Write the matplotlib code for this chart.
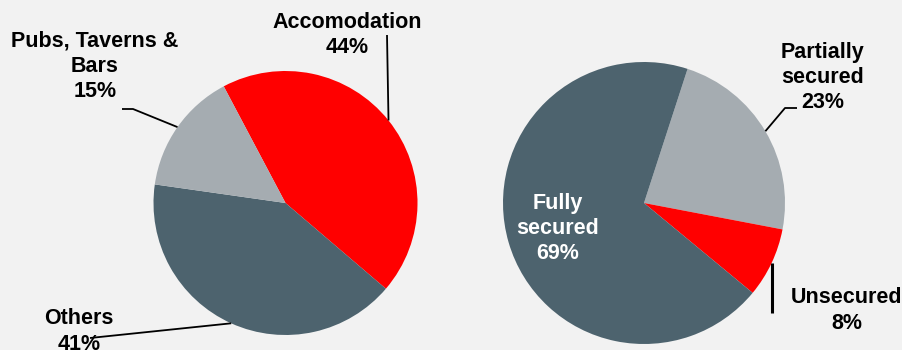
import numpy as np
import matplotlib.pyplot as plt

# Left pie: share of sector
left_labels = ["Accomodation", "Others", "Pubs, Taverns &\nBars"]
left_values = [44, 41, 15]
left_colors = ["#FF0000", "#4D636E", "#A5ACB1"]

# Right pie: security status
right_labels = ["Partially\nsecured", "Unsecured", "Fully\nsecured"]
right_values = [23, 8, 69]
right_colors = ["#A5ACB1", "#FF0000", "#4D636E"]

BG = "#F2F2F2"
FONT = "Liberation Sans"

fig = plt.figure(figsize=(9.03, 3.5), dpi=100, facecolor=BG)
ax = fig.add_axes([0, 0, 1, 1])
ax.set_facecolor(BG)

# axes in pixel units (y up)
H = 350
left_center, left_r = (285.5, H - 203), 132
right_center, right_r = (644, H - 203), 141

lw, _ = ax.pie(left_values, colors=left_colors, startangle=117.9, counterclock=False,
               center=left_center, radius=left_r, wedgeprops=dict(linewidth=0))
rw, _ = ax.pie(right_values, colors=right_colors, startangle=72, counterclock=False,
               center=right_center, radius=right_r, wedgeprops=dict(linewidth=0))
ax.set_xlim(0, 903)
ax.set_ylim(0, H)
ax.set_aspect("equal")
ax.axis("off")


def edge_point(w):
    a = np.deg2rad((w.theta1 + w.theta2) / 2)
    cx, cy = w.center
    return cx + w.r * np.cos(a), cy + w.r * np.sin(a)


def label(x, y, txt, color="black"):
    ax.text(x, H - y, txt, ha="center", va="center", multialignment="center",
            fontsize=15.5, fontweight="bold", family=FONT, color=color,
            linespacing=1.28)


# leader lines (start at wedge middle on the edge)
line_kw = dict(color="black", lw=1.3, solid_capstyle="butt")

x0, y0 = edge_point(lw[0])
ax.plot([x0, 387], [y0, H - 35], **line_kw)
x0, y0 = edge_point(lw[2])
ax.plot([x0, 133, 122], [y0, H - 109, H - 109], **line_kw)
x0, y0 = edge_point(lw[1])
ax.plot([x0, 90], [y0, H - 338], **line_kw)

x0, y0 = edge_point(rw[0])
ax.plot([x0, 785, 797], [y0, H - 108, H - 108], **line_kw)
x0, y0 = edge_point(rw[1])
ax.plot([x0, x0], [y0, H - 313], color="black", lw=2.2, solid_capstyle="butt")

label(347, 35, f"{left_labels[0]}\n{left_values[0]}%")
label(95, 66.5, f"{left_labels[2]}\n{left_values[2]}%")
label(79, 331.5, f"{left_labels[1]}\n{left_values[1]}%")

label(823, 77.5, f"{right_labels[0]}\n{right_values[0]}%")
label(847, 310.5, f"{right_labels[1]}\n{right_values[1]}%")
label(558, 228.5, f"{right_labels[2]}\n{right_values[2]}%", color="white")

fig.savefig("out.png", dpi=100, facecolor=BG)
